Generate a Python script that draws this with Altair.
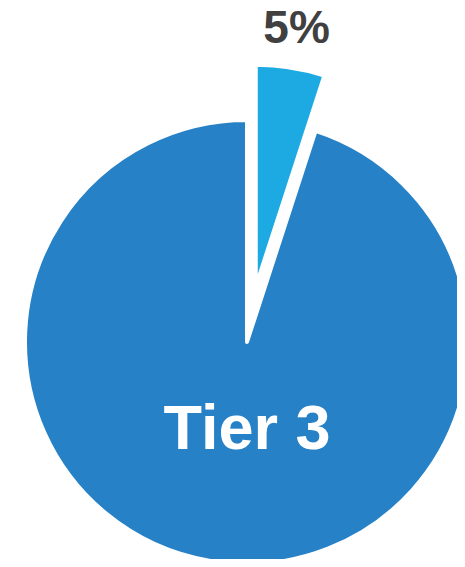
import altair as alt
import pandas as pd

categories = ["Other tiers", "Tier 3"]
values = [5, 95]
colors = ["#1DA9E1", "#2681C6"]

df = pd.DataFrame({"category": categories, "value": values, "order": list(range(len(categories)))})

CX, CY, R = 239, 334, 222

base = (
    alt.Chart(df)
    .transform_joinaggregate(total="sum(value)")
    .transform_window(cum="sum(value)", sort=[alt.SortField("order")])
    .transform_calculate(
        t0="(datum.cum - datum.value) / datum.total * 2 * PI",
        t1="datum.cum / datum.total * 2 * PI",
    )
    .transform_calculate(
        mid="(datum.t0 + datum.t1) / 2",
        explode="datum.category == 'Tier 3' ? 0 : 56",
        pct="format(datum.value / datum.total, '.0%')",
    )
    .transform_calculate(
        cx=f"{CX} + datum.explode * sin(datum.mid)",
        cy=f"{CY} - datum.explode * cos(datum.mid)",
    )
)

arcs = base.mark_arc(outerRadius=R, stroke="white", strokeWidth=4, strokeJoin="round").encode(
    x=alt.X("cx:Q", scale=None, axis=None),
    y=alt.Y("cy:Q", scale=None, axis=None),
    theta=alt.Theta("t0:Q", scale=None),
    theta2=alt.Theta2("t1:Q"),
    color=alt.Color("category:N", scale=alt.Scale(domain=categories, range=colors), legend=None),
)

pct_label = (
    base.transform_filter("datum.category != 'Tier 3'")
    .transform_calculate(
        lx=f"datum.cx + {R + 39} * sin(datum.mid)",
        ly=f"datum.cy - {R + 39} * cos(datum.mid)",
    )
    .mark_text(font="Liberation Sans", fontWeight="bold", fontSize=46, color="#404040", baseline="middle", align="center")
    .encode(
        x=alt.X("lx:Q", scale=None, axis=None),
        y=alt.Y("ly:Q", scale=None, axis=None),
        text="pct:N",
    )
)

name_label = (
    base.transform_filter("datum.category == 'Tier 3'")
    .transform_calculate(
        lx="datum.cx + 89 * sin(datum.mid)",
        ly="datum.cy - 89 * cos(datum.mid)",
    )
    .mark_text(font="Liberation Sans", fontWeight="bold", fontSize=63, color="white", baseline="middle", align="center", dx=14)
    .encode(
        x=alt.X("lx:Q", scale=None, axis=None),
        y=alt.Y("ly:Q", scale=None, axis=None),
        text="category:N",
    )
)

chart = (
    alt.layer(arcs, pct_label, name_label)
    .properties(width=449, height=551, padding=0, autosize=alt.AutoSizeParams(type="none"))
    .configure_view(stroke=None)
)

chart.save("out.html", embed_options={"renderer": "svg", "actions": False})
